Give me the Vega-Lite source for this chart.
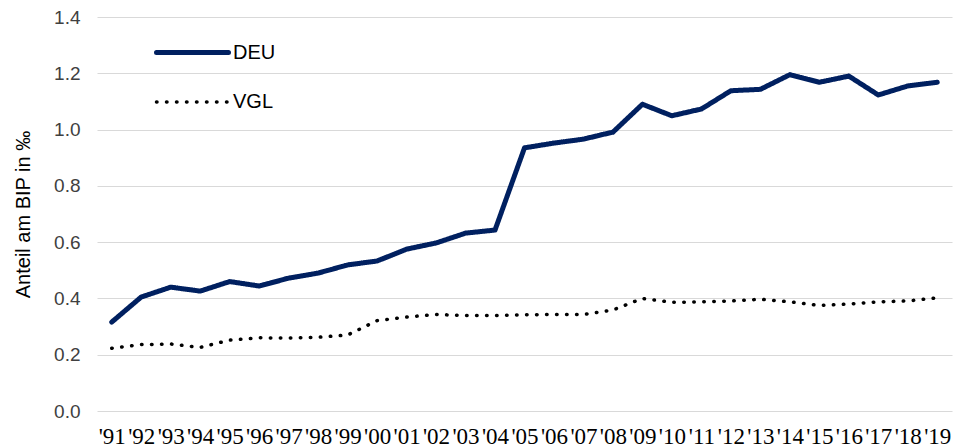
{
  "$schema": "https://vega.github.io/schema/vega-lite/v6.json",
  "autosize": "none",
  "width": 855,
  "height": 394,
  "padding": {"left": 97, "top": 17, "right": 10, "bottom": 37},
  "background": "white",
  "config": {
    "view": {"stroke": null},
    "font": "Liberation Sans",
    "axis": {"labelFont": "Liberation Sans", "titleFont": "Liberation Sans"}
  },
  "data": {
    "values": [
      {"year": 1991, "label": "'91", "series": "DEU", "value": 0.316},
      {"year": 1992, "label": "'92", "series": "DEU", "value": 0.405},
      {"year": 1993, "label": "'93", "series": "DEU", "value": 0.44},
      {"year": 1994, "label": "'94", "series": "DEU", "value": 0.426},
      {"year": 1995, "label": "'95", "series": "DEU", "value": 0.46},
      {"year": 1996, "label": "'96", "series": "DEU", "value": 0.444},
      {"year": 1997, "label": "'97", "series": "DEU", "value": 0.472},
      {"year": 1998, "label": "'98", "series": "DEU", "value": 0.49},
      {"year": 1999, "label": "'99", "series": "DEU", "value": 0.519},
      {"year": 2000, "label": "'00", "series": "DEU", "value": 0.533},
      {"year": 2001, "label": "'01", "series": "DEU", "value": 0.575},
      {"year": 2002, "label": "'02", "series": "DEU", "value": 0.597},
      {"year": 2003, "label": "'03", "series": "DEU", "value": 0.632},
      {"year": 2004, "label": "'04", "series": "DEU", "value": 0.643},
      {"year": 2005, "label": "'05", "series": "DEU", "value": 0.935},
      {"year": 2006, "label": "'06", "series": "DEU", "value": 0.952},
      {"year": 2007, "label": "'07", "series": "DEU", "value": 0.966},
      {"year": 2008, "label": "'08", "series": "DEU", "value": 0.991},
      {"year": 2009, "label": "'09", "series": "DEU", "value": 1.09},
      {"year": 2010, "label": "'10", "series": "DEU", "value": 1.049},
      {"year": 2011, "label": "'11", "series": "DEU", "value": 1.073},
      {"year": 2012, "label": "'12", "series": "DEU", "value": 1.138},
      {"year": 2013, "label": "'13", "series": "DEU", "value": 1.143},
      {"year": 2014, "label": "'14", "series": "DEU", "value": 1.195},
      {"year": 2015, "label": "'15", "series": "DEU", "value": 1.168},
      {"year": 2016, "label": "'16", "series": "DEU", "value": 1.19},
      {"year": 2017, "label": "'17", "series": "DEU", "value": 1.123},
      {"year": 2018, "label": "'18", "series": "DEU", "value": 1.155},
      {"year": 2019, "label": "'19", "series": "DEU", "value": 1.168},
      {"year": 1991, "label": "'91", "series": "VGL", "value": 0.223},
      {"year": 1992, "label": "'92", "series": "VGL", "value": 0.236},
      {"year": 1993, "label": "'93", "series": "VGL", "value": 0.238},
      {"year": 1994, "label": "'94", "series": "VGL", "value": 0.226},
      {"year": 1995, "label": "'95", "series": "VGL", "value": 0.252},
      {"year": 1996, "label": "'96", "series": "VGL", "value": 0.26},
      {"year": 1997, "label": "'97", "series": "VGL", "value": 0.259},
      {"year": 1998, "label": "'98", "series": "VGL", "value": 0.262},
      {"year": 1999, "label": "'99", "series": "VGL", "value": 0.27},
      {"year": 2000, "label": "'00", "series": "VGL", "value": 0.321},
      {"year": 2001, "label": "'01", "series": "VGL", "value": 0.334},
      {"year": 2002, "label": "'02", "series": "VGL", "value": 0.343},
      {"year": 2003, "label": "'03", "series": "VGL", "value": 0.339},
      {"year": 2004, "label": "'04", "series": "VGL", "value": 0.339},
      {"year": 2005, "label": "'05", "series": "VGL", "value": 0.342},
      {"year": 2006, "label": "'06", "series": "VGL", "value": 0.343},
      {"year": 2007, "label": "'07", "series": "VGL", "value": 0.343},
      {"year": 2008, "label": "'08", "series": "VGL", "value": 0.359},
      {"year": 2009, "label": "'09", "series": "VGL", "value": 0.4},
      {"year": 2010, "label": "'10", "series": "VGL", "value": 0.386},
      {"year": 2011, "label": "'11", "series": "VGL", "value": 0.388},
      {"year": 2012, "label": "'12", "series": "VGL", "value": 0.391},
      {"year": 2013, "label": "'13", "series": "VGL", "value": 0.397},
      {"year": 2014, "label": "'14", "series": "VGL", "value": 0.388},
      {"year": 2015, "label": "'15", "series": "VGL", "value": 0.375},
      {"year": 2016, "label": "'16", "series": "VGL", "value": 0.38},
      {"year": 2017, "label": "'17", "series": "VGL", "value": 0.388},
      {"year": 2018, "label": "'18", "series": "VGL", "value": 0.391},
      {"year": 2019, "label": "'19", "series": "VGL", "value": 0.402}
    ]
  },
  "mark": {"type": "line", "strokeCap": "round", "strokeJoin": "round"},
  "encoding": {
    "x": {
      "field": "label",
      "type": "ordinal",
      "sort": {"field": "year"},
      "scale": {"type": "point", "padding": 0.5},
      "axis": {
        "title": null,
        "domain": false,
        "ticks": false,
        "grid": false,
        "labelAngle": 0,
        "labelFont": "Liberation Sans Narrow",
        "labelFontSize": 23,
        "labelColor": "#000000",
        "labelPadding": 14,
        "labelOverlap": false
      }
    },
    "y": {
      "field": "value",
      "type": "quantitative",
      "scale": {"domain": [0, 1.4], "nice": false},
      "axis": {
        "values": [0, 0.2, 0.4, 0.6, 0.8, 1.0, 1.2, 1.4],
        "format": ".1f",
        "title": "Anteil am BIP in ‰",
        "titleFontSize": 20,
        "titleFontWeight": "normal",
        "titleColor": "#000000",
        "titlePadding": 20,
        "domain": false,
        "ticks": false,
        "labelFontSize": 19,
        "labelColor": "#404040",
        "labelPadding": 17,
        "gridColor": "#d9d9d9",
        "gridWidth": 1
      }
    },
    "color": {
      "field": "series",
      "type": "nominal",
      "scale": {"domain": ["DEU", "VGL"], "range": ["#002060", "#000000"]},
      "legend": {
        "title": null,
        "orient": "none",
        "legendX": 57,
        "legendY": -3,
        "symbolType": "stroke",
        "symbolSize": 5184,
        "symbolStrokeWidth": 4.5,
        "labelFontSize": 20,
        "labelColor": "#000000",
        "labelOffset": 2,
        "rowPadding": 1,
        "labelFont": "Liberation Sans",
        "symbolOffset": 0,
        "padding": 0,
        "encode": {"symbols": {"update": {"strokeCap": {"value": "round"}}}}
      }
    },
    "strokeDash": {
      "field": "series",
      "type": "nominal",
      "scale": {"domain": ["DEU", "VGL"], "range": [[1, 0], [0.5, 9.5]]}
    },
    "strokeWidth": {
      "field": "series",
      "type": "nominal",
      "scale": {"domain": ["DEU", "VGL"], "range": [5, 3.5]},
      "legend": null
    }
  }
}
